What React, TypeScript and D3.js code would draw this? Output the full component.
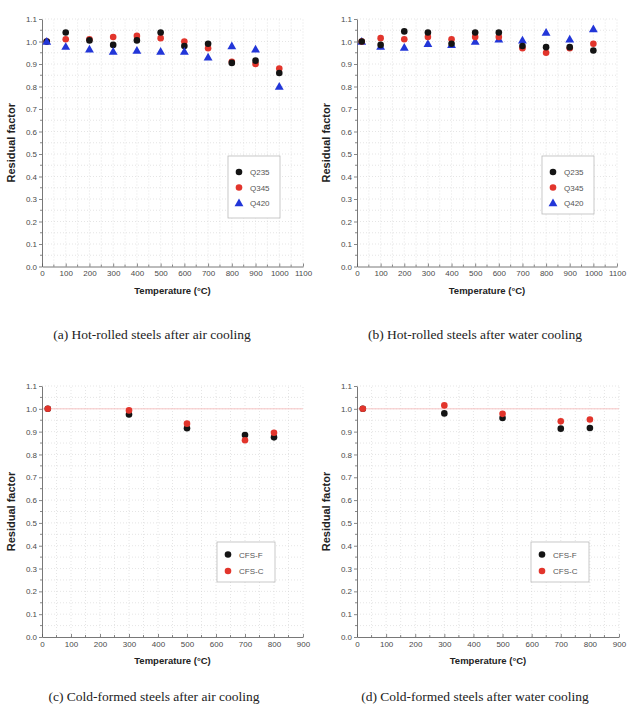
import React, { useEffect, useRef } from "react";
import * as d3 from "d3";

const hotTemps = [20, 100, 200, 300, 400, 500, 600, 700, 800, 900, 1000];
const q235Air = [1.0, 1.04, 1.005, 0.985, 1.005, 1.04, 0.98, 0.99, 0.905, 0.915, 0.86];
const q345Air = [1.0, 1.01, 1.01, 1.02, 1.025, 1.015, 1.0, 0.97, 0.91, 0.9, 0.88];
const q420Air = [1.0, 0.977, 0.965, 0.955, 0.96, 0.955, 0.955, 0.93, 0.98, 0.965, 0.8];
const q235Water = [1.0, 0.985, 1.045, 1.04, 0.99, 1.04, 1.04, 0.98, 0.975, 0.975, 0.96];
const q345Water = [1.0, 1.015, 1.01, 1.02, 1.01, 1.02, 1.02, 0.97, 0.95, 0.97, 0.99];
const q420Water = [1.0, 0.977, 0.973, 0.99, 0.985, 1.0, 1.01, 1.005, 1.04, 1.01, 1.055];

const coldTemps = [20, 300, 500, 700, 800];
const cfsFAir = [1.0, 0.975, 0.915, 0.885, 0.875];
const cfsCAir = [1.0, 0.993, 0.935, 0.862, 0.895];
const cfsFWater = [1.0, 0.98, 0.96, 0.913, 0.916];
const cfsCWater = [1.0, 1.015, 0.978, 0.945, 0.953];

const hotNames = ["Q235", "Q345", "Q420"];
const coldNames = ["CFS-F", "CFS-C"];
const captions = [
  "(a) Hot-rolled steels after air cooling",
  "(b) Hot-rolled steels after water cooling",
  "(c) Cold-formed steels after air cooling",
  "(d) Cold-formed steels after water cooling",
];

const BLACK = "#141414";
const RED = "#e2352c";
const BLUE = "#2236d8";

const App = () => {
  const container = useRef(null);

  useEffect(() => {
    const width = 628;
    const height = 709;

    const svg = d3
      .select(container.current)
      .append("svg")
      .attr("width", width)
      .attr("height", height)
      .attr("style", "position:absolute;left:0;top:0;background:#fff");

    const panels = [
      {
        left: 42, right: 303, top: 19, bottom: 266.5, xMax: 1100,
        temps: hotTemps, caption: captions[0], capX: 152, capY: 339, refLine: false,
        series: [
          { name: hotNames[0], values: q235Air, color: BLACK, shape: "circle" },
          { name: hotNames[1], values: q345Air, color: RED, shape: "circle" },
          { name: hotNames[2], values: q420Air, color: BLUE, shape: "triangle" },
        ],
        order: [1, 0, 2],
        legend: { x: 228, y: 156, w: 52, h: 62 },
      },
      {
        left: 357, right: 617, top: 19, bottom: 266.5, xMax: 1100,
        temps: hotTemps, caption: captions[1], capX: 475, capY: 339, refLine: false,
        series: [
          { name: hotNames[0], values: q235Water, color: BLACK, shape: "circle" },
          { name: hotNames[1], values: q345Water, color: RED, shape: "circle" },
          { name: hotNames[2], values: q420Water, color: BLUE, shape: "triangle" },
        ],
        order: [2, 1, 0],
        legend: { x: 542, y: 156, w: 52, h: 58 },
      },
      {
        left: 42, right: 303, top: 386, bottom: 637, xMax: 900,
        temps: coldTemps, caption: captions[2], capX: 154, capY: 701, refLine: true,
        series: [
          { name: coldNames[0], values: cfsFAir, color: BLACK, shape: "circle" },
          { name: coldNames[1], values: cfsCAir, color: RED, shape: "circle" },
        ],
        order: [0, 1],
        legend: { x: 217, y: 542, w: 58, h: 40 },
      },
      {
        left: 357, right: 619, top: 386, bottom: 637, xMax: 900,
        temps: coldTemps, caption: captions[3], capX: 475, capY: 701, refLine: true,
        series: [
          { name: coldNames[0], values: cfsFWater, color: BLACK, shape: "circle" },
          { name: coldNames[1], values: cfsCWater, color: RED, shape: "circle" },
        ],
        order: [0, 1],
        legend: { x: 531, y: 542, w: 58, h: 40 },
      },
    ];

    const tri = d3.symbol().type(d3.symbolTriangle).size(34);

    const marker = (sel, s, cx, cy) => {
      if (s.shape === "triangle") {
        sel.append("path").attr("d", tri).attr("transform", `translate(${cx},${cy + 0.6})`).attr("fill", s.color);
      } else {
        sel.append("circle").attr("cx", cx).attr("cy", cy).attr("r", 3.3).attr("fill", s.color);
      }
    };

    panels.forEach((p) => {
      const x = d3.scaleLinear().domain([0, p.xMax]).range([p.left, p.right]);
      const y = d3.scaleLinear().domain([0, 1.1]).range([p.bottom, p.top]);
      const g = svg.append("g");

      // dotted grid at major and minor steps
      g.append("g")
        .selectAll("line")
        .data(d3.range(50, p.xMax + 1, 50))
        .join("line")
        .attr("x1", (d) => x(d))
        .attr("x2", (d) => x(d))
        .attr("y1", y(0))
        .attr("y2", y(1.1))
        .attr("stroke", "#d4d4d4")
        .attr("stroke-width", 0.6)
        .attr("stroke-dasharray", "1,2");
      g.append("g")
        .selectAll("line")
        .data(d3.range(1, 23).map((i) => i * 0.05))
        .join("line")
        .attr("x1", x(0))
        .attr("x2", x(p.xMax))
        .attr("y1", (d) => y(d))
        .attr("y2", (d) => y(d))
        .attr("stroke", "#d4d4d4")
        .attr("stroke-width", 0.6)
        .attr("stroke-dasharray", "1,2");

      if (p.refLine) {
        g.append("line")
          .attr("x1", x(0))
          .attr("x2", x(p.xMax))
          .attr("y1", y(1))
          .attr("y2", y(1))
          .attr("stroke", "#f6c4c4")
          .attr("stroke-width", 1);
      }

      // minor ticks
      g.append("g")
        .selectAll("line")
        .data(d3.range(50, p.xMax + 1, 100))
        .join("line")
        .attr("x1", (d) => x(d))
        .attr("x2", (d) => x(d))
        .attr("y1", y(0))
        .attr("y2", y(0) - 2)
        .attr("stroke", "#555")
        .attr("stroke-width", 0.7);
      g.append("g")
        .selectAll("line")
        .data(d3.range(0, 11).map((i) => i * 0.1 + 0.05))
        .join("line")
        .attr("x1", x(0))
        .attr("x2", x(0) - 2)
        .attr("y1", (d) => y(d))
        .attr("y2", (d) => y(d))
        .attr("stroke", "#555")
        .attr("stroke-width", 0.7);

      g.append("g")
        .attr("transform", `translate(0,${p.bottom})`)
        .call(
          d3.axisBottom(x)
            .tickValues(d3.range(0, p.xMax + 1, 100))
            .tickSizeInner(-3)
            .tickSizeOuter(0)
            .tickPadding(4)
            .tickFormat(d3.format("d"))
        )
        .call((a) => a.select(".domain").attr("stroke", "#555").attr("stroke-width", 0.8))
        .call((a) => a.selectAll(".tick line").attr("stroke", "#555").attr("stroke-width", 0.7))
        .call((a) =>
          a.selectAll("text").attr("fill", "#4a4a4a").style("font-size", "8px").style("font-family", "Liberation Sans, Arial, sans-serif")
        );

      g.append("g")
        .attr("transform", `translate(${p.left},0)`)
        .call(
          d3.axisLeft(y)
            .tickValues(d3.range(0, 12).map((i) => i * 0.1))
            .tickSizeInner(3)
            .tickSizeOuter(0)
            .tickPadding(2)
            .tickFormat(d3.format(".1f"))
        )
        .call((a) => a.select(".domain").attr("stroke", "#555").attr("stroke-width", 0.8))
        .call((a) => a.selectAll(".tick line").attr("stroke", "#555").attr("stroke-width", 0.7))
        .call((a) =>
          a.selectAll("text").attr("fill", "#4a4a4a").style("font-size", "8px").style("font-family", "Liberation Sans, Arial, sans-serif")
        );

      // axis titles
      g.append("text")
        .attr("x", (p.left + p.right) / 2)
        .attr("y", p.bottom + 27)
        .attr("text-anchor", "middle")
        .attr("fill", "#222")
        .style("font-family", "Liberation Sans, Arial, sans-serif")
        .style("font-size", "9.5px")
        .style("font-weight", "bold")
        .text("Temperature (°C)");

      g.append("text")
        .attr("transform", `translate(${p.left - 27},${(p.top + p.bottom) / 2}) rotate(-90)`)
        .attr("text-anchor", "middle")
        .attr("fill", "#222")
        .style("font-family", "Liberation Sans, Arial, sans-serif")
        .style("font-size", "11px")
        .style("font-weight", "bold")
        .text("Residual factor");

      // points
      p.order.forEach((si) => {
        const s = p.series[si];
        const pg = g.append("g");
        p.temps.forEach((t, i) => marker(pg, s, x(t), y(s.values[i])));
      });

      // legend
      const L = p.legend;
      const lg = g.append("g");
      lg.append("rect")
        .attr("x", L.x)
        .attr("y", L.y)
        .attr("width", L.w)
        .attr("height", L.h)
        .attr("fill", "#fff")
        .attr("stroke", "#bbb")
        .attr("stroke-width", 0.8);
      const step = p.series.length === 3 ? 15.5 : 16.5;
      const y0 = L.y + (p.series.length === 3 ? 16 : 12.5);
      p.series.forEach((s, i) => {
        const cy = y0 + i * step;
        marker(lg, s, L.x + 11, cy);
        lg.append("text")
          .attr("x", L.x + 22)
          .attr("y", cy + 3)
          .attr("fill", "#555")
          .style("font-family", "Liberation Sans, Arial, sans-serif")
          .style("font-size", "8px")
          .text(s.name);
      });

      // caption
      svg.append("text")
        .attr("x", p.capX)
        .attr("y", p.capY)
        .attr("text-anchor", "middle")
        .attr("fill", "#222")
        .style("font-family", "Liberation Serif, Times New Roman, serif")
        .style("font-size", "13.5px")
        .text(p.caption);
    });

    return () => {
      svg.remove();
    };
  }, []);

  return <div ref={container}></div>;
};

export default App;
